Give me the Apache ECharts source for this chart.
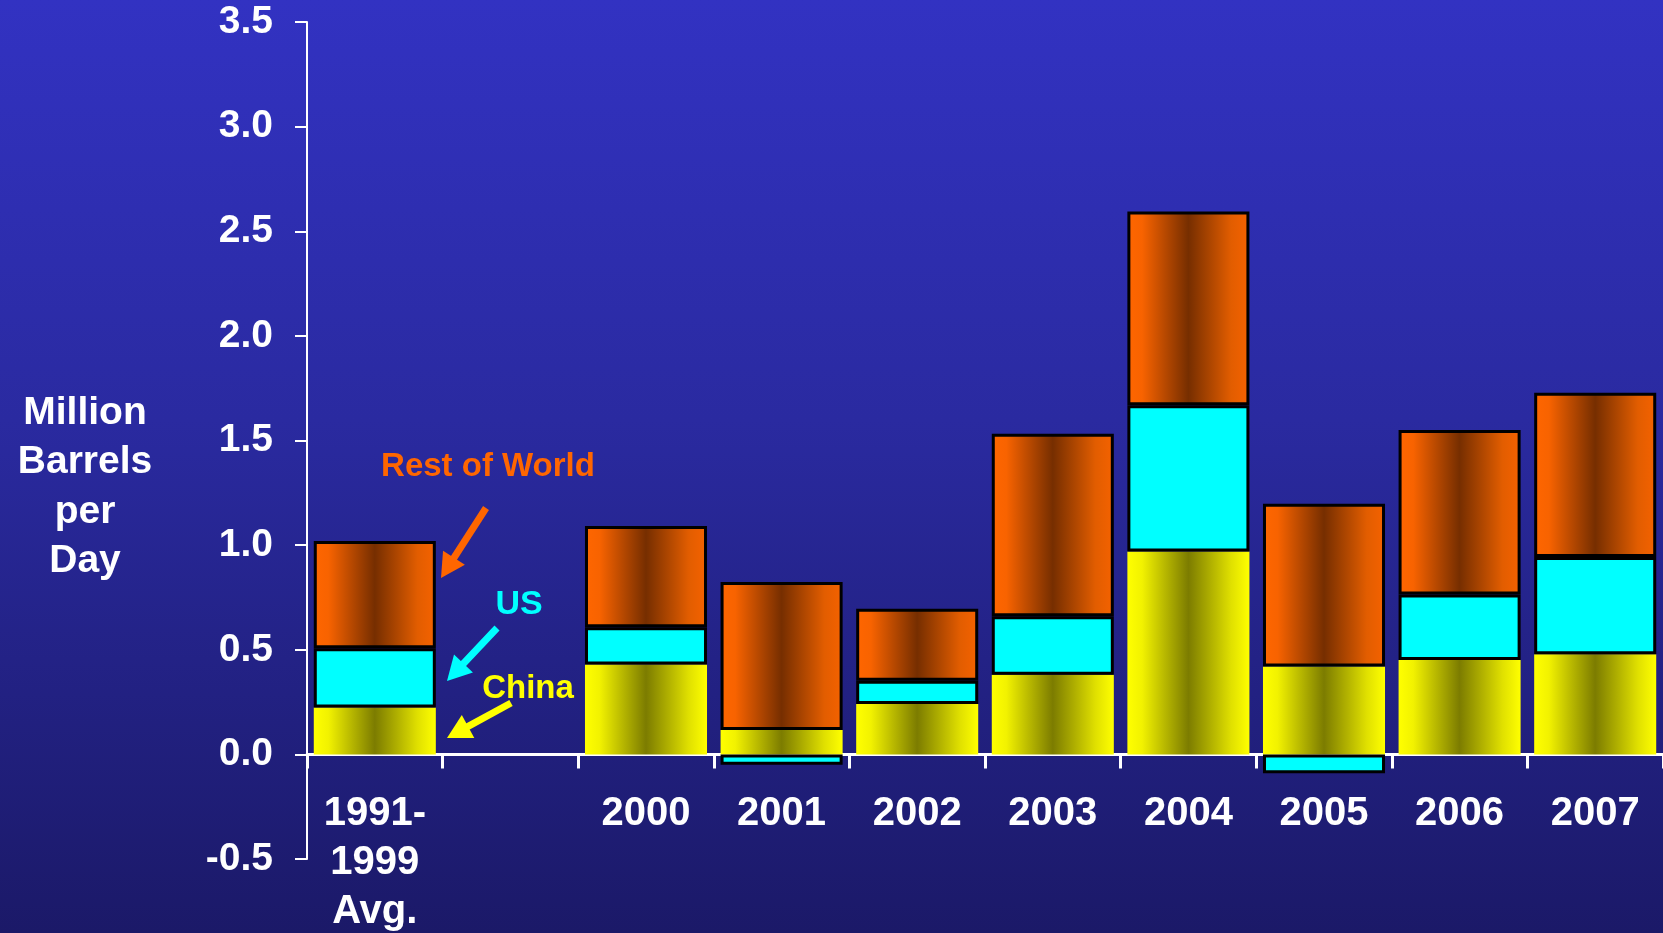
<!DOCTYPE html>
<html>
<head>
<meta charset="utf-8">
<script src="https://cdn.jsdelivr.net/npm/echarts@6/dist/echarts.min.js"></script>
<style>
html,body{margin:0;padding:0;width:1663px;height:933px;overflow:hidden;
background:linear-gradient(to bottom,#3232C2 0%,#2A2AA0 45%,#1B1968 100%);}
#chart{width:1663px;height:933px;}
</style>
</head>
<body>
<div id="chart"></div>
<script>
const categories = ['1991-\n1999\nAvg.', '', '2000', '2001', '2002', '2003', '2004', '2005', '2006', '2007'];
const china = [0.224, null, 0.429, 0.116, 0.241, 0.381, 0.970, 0.420, 0.451, 0.479];
const us    = [0.283, null, 0.179, -0.050, 0.111, 0.279, 0.699, -0.090, 0.313, 0.464];
const rest  = [0.513, null, 0.483, 0.708, 0.344, 0.872, 0.925, 0.778, 0.786, 0.785];
const yTicks = [-0.5, 0.0, 0.5, 1.0, 1.5, 2.0, 2.5, 3.0, 3.5];

const FONT = '"Liberation Sans", Arial, sans-serif';

function grad(stops) {
  return { type: 'linear', x: 0, y: 0, x2: 1, y2: 0,
    colorStops: stops.map(s => ({ offset: s[0], color: s[1] })) };
}
const orangeGrad = grad([[0, '#FF6600'], [0.12, '#F86300'], [0.5, '#762E00'], [0.85, '#E25D00'], [1, '#F56200']]);
const yellowGrad = grad([[0, '#FFFF00'], [0.12, '#F2F200'], [0.5, '#7C7C00'], [0.85, '#E0E000'], [1, '#FFFF00']]);

function arrow(x1, y1, x2, y2, color, w, hl, hw) {
  const dx = x2 - x1, dy = y2 - y1, L = Math.hypot(dx, dy);
  const ux = dx / L, uy = dy / L, px = -uy, py = ux;
  const bx = x2 - ux * hl, by = y2 - uy * hl;
  return [
    { type: 'line', silent: true, shape: { x1: x1, y1: y1, x2: bx + ux * 2, y2: by + uy * 2 },
      style: { stroke: color, lineWidth: w } },
    { type: 'polygon', silent: true,
      shape: { points: [[x2, y2], [bx + px * hw / 2, by + py * hw / 2], [bx - px * hw / 2, by - py * hw / 2]] },
      style: { fill: color } }
  ];
}

const chart = echarts.init(document.getElementById('chart'), null, { renderer: 'canvas' });
const labelStyle = { color: '#FFFFFF', fontFamily: FONT, fontWeight: 'bold' };

chart.setOption({
  backgroundColor: 'transparent',
  animation: false,
  grid: { left: 307, right: 0, top: 22, bottom: 74, containLabel: false, outerBoundsMode: 'none' },
  xAxis: {
    type: 'category',
    data: categories,
    axisLine: { onZero: true, lineStyle: { color: '#FFFFFF', width: 3 } },
    axisTick: { show: true, inside: false, length: 14, lineStyle: { color: '#FFFFFF', width: 3 } },
    axisLabel: Object.assign({ margin: -70, lineHeight: 49, interval: 0, align: 'center', fontSize: 40 }, labelStyle),
    splitLine: { show: false }
  },
  yAxis: {
    type: 'value',
    min: yTicks[0], max: yTicks[yTicks.length - 1], interval: 0.5,
    axisLine: { show: true, lineStyle: { color: '#FFFFFF', width: 2 } },
    axisTick: { show: true, inside: false, length: 12, lineStyle: { color: '#FFFFFF', width: 2 } },
    axisLabel: Object.assign({ margin: 34, fontSize: 39, formatter: v => v.toFixed(1) }, labelStyle),
    splitLine: { show: false }
  },
  series: [
    { name: 'China', type: 'bar', stack: 'total', data: china, barCategoryGap: '10%',
      itemStyle: { color: yellowGrad, borderWidth: 0 } },
    { name: 'US', type: 'bar', stack: 'total', data: us,
      itemStyle: { color: '#00FFFF', borderColor: '#000000', borderWidth: 3 } },
    { name: 'Rest of World', type: 'bar', stack: 'total', data: rest,
      itemStyle: { color: orangeGrad, borderColor: '#000000', borderWidth: 3 } }
  ],
  graphic: [
    { type: 'text', x: 85, y: 487, silent: true,
      style: { text: 'Million\nBarrels\nper\nDay', fill: '#FFFFFF', font: 'bold 39px ' + FONT,
        align: 'center', verticalAlign: 'middle', lineHeight: 49.5 } },
    { type: 'text', x: 488, y: 467, silent: true,
      style: { text: 'Rest of World', fill: '#FF6600', font: 'bold 33px ' + FONT, align: 'center', verticalAlign: 'middle' } },
    { type: 'text', x: 519, y: 605, silent: true,
      style: { text: 'US', fill: '#00FFFF', font: 'bold 34px ' + FONT, align: 'center', verticalAlign: 'middle' } },
    { type: 'text', x: 528, y: 689, silent: true,
      style: { text: 'China', fill: '#FFFF00', font: 'bold 33px ' + FONT, align: 'center', verticalAlign: 'middle' } }
  ]
    .concat(arrow(486, 508, 441, 578, '#FF6600', 7, 24, 26))
    .concat(arrow(497, 628, 447, 681, '#00FFFF', 7, 24, 26))
    .concat(arrow(511, 703, 447, 738, '#FFFF00', 7, 24, 26))
});
</script>
</body>
</html>
